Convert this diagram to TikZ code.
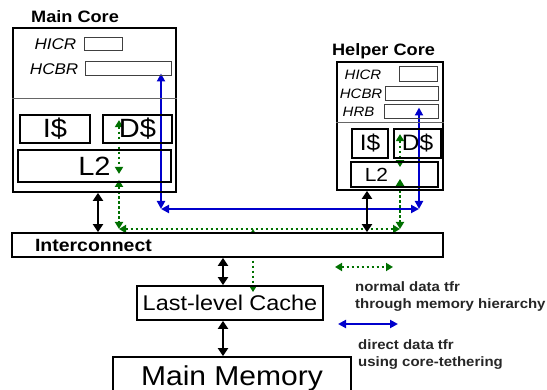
\documentclass[tikz,border=0pt]{standalone}
\usepackage{fontspec}
\setmainfont{Liberation Sans}[FakeStretch=1.1]
\usetikzlibrary{arrows.meta,backgrounds,calc,positioning}

\definecolor{tfrgreen}{RGB}{0,112,0}
\definecolor{tfrblue}{RGB}{0,0,204}
\newcommand{\fsz}[2]{\fontsize{#1}{#2}\selectfont}

\tikzset{
  corebox/.style={draw, line width=1.8pt, inner sep=0pt},
  unitbox/.style={draw, line width=1.8pt, inner sep=0pt},
  regbox/.style={draw=black!75, line width=1pt, inner sep=0pt},
  reglabel/.style={inner sep=0pt, font=\fsz{#1}{#1}\itshape},
  coretitle/.style={inner sep=0pt, font=\fsz{16.5}{20}\bfseries},
  seprule/.style={draw=black!60, line width=1pt},
  blk/.style={line width=2.2pt, {Triangle[width=10pt,length=8pt]}-{Triangle[width=10pt,length=8pt]}},
  grn/.style={tfrgreen, line width=2pt, dash pattern=on 2.5pt off 2.5pt,
    {Triangle[width=8pt,length=7pt]}-{Triangle[width=8pt,length=7pt]}},
  blu/.style={tfrblue, line width=2pt, {Triangle[width=8pt,length=8pt]}-{Triangle[width=8pt,length=8pt]}},
  legendtext/.style={inner sep=0pt, align=left, anchor=north west, text=black!85,
    font=\fsz{13.6}{17}\bfseries}
}

\begin{document}
\begin{tikzpicture}[x=1pt, y=-1pt]
      \useasboundingbox (0,0) rectangle (547,390);
      \clip (0,0) rectangle (547,390);

      \node[corebox, minimum width=163pt, minimum height=164pt] (main) at (94.5,110) {};
      \node[coretitle] (maintitle) at (75,17) {Main Core};
      \draw[seprule] ($(main.north west)+(0,71)$) -- ($(main.north east)+(0,71)$);
      \node[regbox, minimum width=38pt, minimum height=13pt] (mhicr) at (103,44.5) {};
      \node[regbox, minimum width=86pt, minimum height=14pt] (mhcbr) at (128,69) {};
      \node[reglabel=15.5, left=7pt of mhicr] (mhicrl) {HICR};
      \node[reglabel=15.5, left=6pt of mhcbr] (mhcbrl) {HCBR};
      \begin{scope}[every node/.style={unitbox, minimum height=28pt, font=\fsz{26.4}{30}}]
        \node[minimum width=70pt] (mic) at (55,129) {I\$};
        \node[minimum width=69pt] (mdc) at (137.5,129) {D\$};
        \node[minimum width=153pt, minimum height=32pt] (ml2) at (94.5,166) {L2};
      \end{scope}

      \node[corebox, minimum width=106pt, minimum height=128pt] (helper) at (390,126) {};
      \node[coretitle] (helpertitle) at (383.5,51.5) {Helper Core};
      \draw[seprule] ($(helper.north west)+(0,61)$) -- ($(helper.north east)+(0,61)$);
      \node[regbox, minimum width=38pt, minimum height=15pt] (hhicr) at (418,74.5) {};
      \node[regbox, minimum width=53pt, minimum height=14pt] (hhcbr) at (411.5,94) {};
      \node[regbox, minimum width=54pt, minimum height=14pt] (hhrb) at (411,112) {};
      \node[reglabel=13.6, left=17pt of hhicr] (hhicrl) {HICR};
      \node[reglabel=13.6, left=2pt of hhcbr] (hhcbrl) {HCBR};
      \node[reglabel=13.6, left=9pt of hhrb] (hhrbl) {HRB};
      \begin{scope}[every node/.style={unitbox, minimum height=29pt, font=\fsz{22.3}{26}}]
        \node[minimum width=36pt] (hic) at (370,143.5) {I\$};
        \node[minimum width=47pt] (hdc) at (417.5,143.5) {D\$};
      \end{scope}
      \node[unitbox, minimum width=87pt, minimum height=25pt,
        label={[font=\fsz{19}{22}, xshift=-18pt]center:L2}] (hl2) at (394.5,174.5) {};

      \node[unitbox, fill=white, minimum width=431pt, minimum height=24pt, inner xsep=23pt,
        text width=385pt, align=left, font=\fsz{17.7}{20}\bfseries] (ic) at (227.5,245) {Interconnect};
      \node[unitbox, minimum width=186pt, minimum height=34pt, font=\fsz{21.3}{24}] (llc) at (230,303) {Last-level Cache};
      \node[unitbox, minimum width=238pt, minimum height=42pt, font=\fsz{27.3}{30}] (mm) at (232,378) {Main Memory};

      \draw[blk] ($(main.south)+(3.5,0)$) -- ($(main.south |- ic.north)+(3.5,0)$);
      \draw[blk] ($(helper.south)+(-23,0)$) -- ($(helper.south |- ic.north)+(-23,0)$);
      \draw[blk] ($(llc.north)+(-7,0)$) -- ($(llc.north |- ic.south)+(-7,0)$);
      \draw[blk] ($(llc.south)+(-7,0)$) -- ($(llc.south |- mm.north)+(-7,0)$);

      \coordinate (gm) at (119,229);
      \coordinate (gh) at (400,229);
      \coordinate (gl) at (253,229);
      \coordinate (bm) at (161,209);
      \coordinate (bh) at (419,209);
      \begin{scope}[on background layer]
        \draw[grn] ($(gm |- mdc.north)+(0,6)$) -- ($(gm |- ml2.south)+(0,-9)$);
        \draw[grn] ($(gm |- ml2.south)+(0,-3)$) -- (gm);
        \draw[grn] (gm) -- (gh);
        \draw[grn] ($(gh |- hdc.north)+(0,6)$) -- ($(gh |- hl2.north)+(0,6)$);
        \draw[grn] ($(gh |- hl2.south)+(0,-9)$) -- (gh);
        \draw[grn] (gl) -- ($(gl |- llc.north)+(0,7)$);
        \draw[blu] ($(bm |- mhcbr.south)+(0,-3)$) -- (bm);
        \draw[blu] (bm) -- (bh);
        \draw[blu] (bh) -- ($(bh |- hhrb.north)+(0,3)$);
      \end{scope}

      \coordinate (lgl) at (335,267);
      \coordinate (lgr) at (393,267);
      \draw[grn] (lgl) -- (lgr);
      \node[legendtext] (lgtxt) at (355,281) {normal data tfr\\through memory hierarchy};
      \coordinate (lbl) at (338,324);
      \coordinate (lbr) at (398,324);
      \draw[blu] (lbl) -- (lbr);
      \node[legendtext] (lbtxt) at (358,339) {direct data tfr\\using core-tethering};
    \end{tikzpicture}
\end{document}
